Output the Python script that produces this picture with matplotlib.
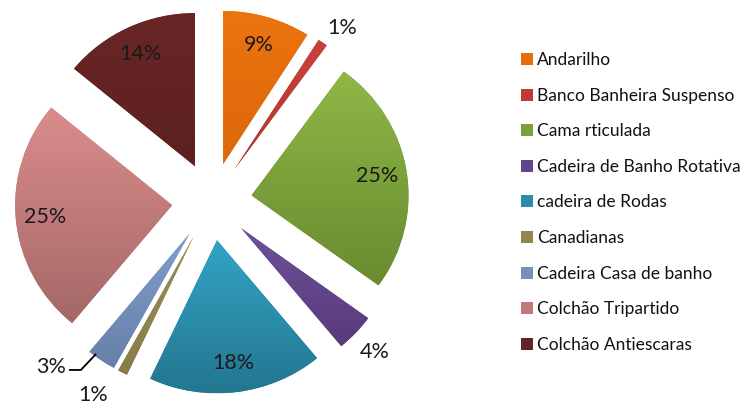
import numpy as np
import matplotlib
matplotlib.use("Agg")
import matplotlib.pyplot as plt
from matplotlib.colors import to_rgb

categories = ["Andarilho", "Banco Banheira Suspenso", "Cama rticulada",
              "Cadeira de Banho Rotativa", "cadeira de Rodas", "Canadianas",
              "Cadeira Casa de banho", "Colchão Tripartido", "Colchão Antiescaras"]
values = [9, 1, 25, 4, 18, 1, 3, 25, 14]

top_colors = ["#EC740F", "#C8423A", "#8FB746", "#6E519A", "#33A4C4",
              "#9A9058", "#809FCC", "#DA8D8B", "#6A2626"]
bot_colors = ["#DC680A", "#B4352F", "#698B2F", "#58397A", "#237690",
              "#877C48", "#6780A9", "#A46867", "#5C2020"]
mid_colors = [tuple((np.array(to_rgb(a)) + np.array(to_rgb(b))) / 2)
              for a, b in zip(top_colors, bot_colors)]

W, H = 742, 401
SY = 0.975  # slight vertical squash of the pie
fig = plt.figure(figsize=(W / 100, H / 100), dpi=100)
ax = fig.add_axes([0, 0, 1, 1])

R = 157
C = (212, (H - 201.5) / SY)
EXPL = 40
font = "Lato"

wedges, texts, autotexts = ax.pie(
    values, colors=mid_colors, startangle=90, counterclock=False,
    radius=R, center=C, explode=[EXPL] * len(values),
    autopct=lambda p: f"{p:.0f}%", pctdistance=0.81,
    wedgeprops=dict(linewidth=0),
    textprops=dict(fontsize=15.5, family=font, color="#1a1a1a"))

ax.set_xlim(0, W)
ax.set_ylim(0, H / SY)
ax.set_aspect("auto")
ax.axis("off")

# gradient fill for each wedge (light top, dark bottom)
for w, ct, cb in zip(wedges, top_colors, bot_colors):
    w.set_zorder(1)
    cx, cy = w.center
    th = np.deg2rad(np.linspace(w.theta1, w.theta2, 60))
    xs = np.concatenate([[cx], cx + w.r * np.cos(th)])
    ys = np.concatenate([[cy], cy + w.r * np.sin(th)])
    y0, y1 = ys.min(), ys.max()
    x0, x1 = xs.min(), xs.max()
    t = np.linspace(0, 1, 128)[:, None]
    grad = (1 - t) * np.array(to_rgb(ct)) + t * np.array(to_rgb(cb))
    img = np.repeat(grad[:, None, :], 2, axis=1)
    im = ax.imshow(img, extent=(x0, x1, y0, y1), origin="upper",
                   aspect="auto", zorder=2, interpolation="bilinear")
    im.set_clip_path(w)

for t in autotexts:
    t.set_zorder(5)

# outside labels for the small slices: (index, angle offset deg, distance factor)
outside = [(1, -2.6, 1.15), (3, -0.3, 1.175), (5, -4.8, 1.22), (6, -11.2, 1.24)]
for i, dang, dist in outside:
    w = wedges[i]
    mid = np.deg2rad((w.theta1 + w.theta2) / 2 + dang)
    cx, cy = w.center
    autotexts[i].set_position((cx + dist * R * np.cos(mid),
                               cy + dist * R * np.sin(mid)))

# leader line for "3%"
w = wedges[6]
cx, cy = w.center
mid = np.deg2rad((w.theta1 + w.theta2) / 2 - 3)
ex, ey = cx + 0.99 * R * np.cos(mid), cy + 0.99 * R * np.sin(mid)
lx, ly = autotexts[6].get_position()
ax.plot([lx + 19, lx + 30, ex], [ly - 3, ly - 3, ey], color="black", lw=1.3,
        zorder=5, solid_joinstyle="miter")

leg = ax.legend(wedges, categories, loc="upper left",
                bbox_to_anchor=(521 / W, 1 - 52 / H), frameon=False,
                prop=dict(family=font, size=12.5), labelspacing=1.13,
                handlelength=0.69, handleheight=0.69, handletextpad=0.25,
                borderpad=0, borderaxespad=0)
for txt in leg.get_texts():
    txt.set_color("#111111")

fig.savefig("out.png", dpi=100)
